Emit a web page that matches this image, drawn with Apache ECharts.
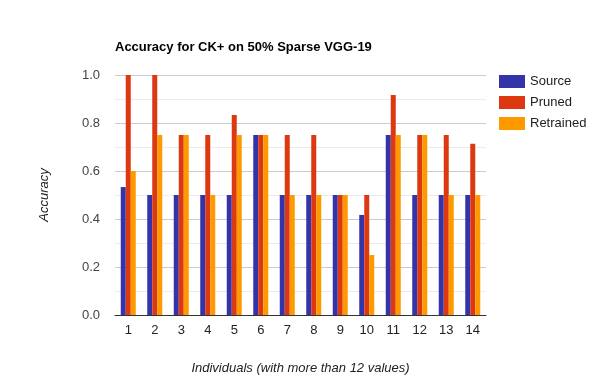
<!DOCTYPE html>
<html>
<head>
<meta charset="utf-8">
<title>Accuracy for CK+</title>
<script src="https://cdn.jsdelivr.net/npm/echarts@6/dist/echarts.min.js"></script>
<style>
  html, body { margin: 0; padding: 0; background: #fff; }
</style>
</head>
<body>
<div id="main" style="width:600px;height:390px;"></div>
<script>
// individuals on x axis
const individuals = ['1', '2', '3', '4', '5', '6', '7', '8', '9', '10', '11', '12', '13', '14'];
const source = [0.533, 0.5, 0.5, 0.5, 0.5, 0.75, 0.5, 0.5, 0.5, 0.417, 0.75, 0.5, 0.5, 0.5];
const pruned = [1.0, 1.0, 0.75, 0.75, 0.833, 0.75, 0.75, 0.75, 0.5, 0.5, 0.917, 0.75, 0.75, 0.714];
const retrained = [0.6, 0.75, 0.75, 0.5, 0.75, 0.75, 0.5, 0.5, 0.5, 0.25, 0.75, 0.75, 0.5, 0.5];

const font = 'Arial, "Liberation Sans", sans-serif';

let chart = echarts.init(document.getElementById('main'));

function bar(name, data, color) {
  return {
    name: name,
    type: 'bar',
    data: data,
    barWidth: 5,
    barGap: '0%',
    itemStyle: { color: color },
    animation: false
  };
}

chart.setOption({
  animation: false,
  title: {
    text: 'Accuracy for CK+ on 50% Sparse VGG-19',
    left: 115,
    top: 41,
    padding: 0,
    textStyle: { fontFamily: font, fontSize: 13, fontWeight: 'bold', color: '#000' }
  },
  legend: {
    orient: 'vertical',
    left: 499,
    top: 75,
    padding: 0,
    itemWidth: 26,
    itemHeight: 13,
    itemGap: 8,
    icon: 'rect',
    textStyle: { fontFamily: font, fontSize: 13, color: '#222' },
    data: ['Source', 'Pruned', 'Retrained']
  },
  grid: { left: 115, right: 114, top: 75, bottom: 75, containLabel: false },
  xAxis: {
    type: 'category',
    data: individuals,
    name: 'Individuals (with more than 12 values)',
    nameLocation: 'middle',
    nameGap: 47,
    nameTextStyle: { fontFamily: font, fontSize: 13, fontStyle: 'italic', color: '#222' },
    axisLine: { lineStyle: { color: '#333', width: 1 } },
    axisTick: { show: false },
    axisLabel: { fontFamily: font, fontSize: 13, color: '#222', margin: 9 }
  },
  yAxis: {
    type: 'value',
    min: 0,
    max: 1,
    interval: 0.2,
    name: 'Accuracy',
    nameLocation: 'middle',
    nameGap: 64,
    nameTextStyle: { fontFamily: font, fontSize: 13, fontStyle: 'italic', color: '#222' },
    axisLine: { show: false },
    axisTick: { show: false },
    axisLabel: {
      fontFamily: font, fontSize: 13, color: '#444', margin: 15,
      formatter: v => v.toFixed(1)
    },
    splitLine: { lineStyle: { color: '#ccc' } },
    minorTick: { show: false, splitNumber: 2 },
    minorSplitLine: { show: true, lineStyle: { color: '#ebebeb' } }
  },
  series: [
    bar('Source', source, '#3333aa'),
    bar('Pruned', pruned, '#dc3912'),
    bar('Retrained', retrained, '#ff9900')
  ]
});
</script>
</body>
</html>
